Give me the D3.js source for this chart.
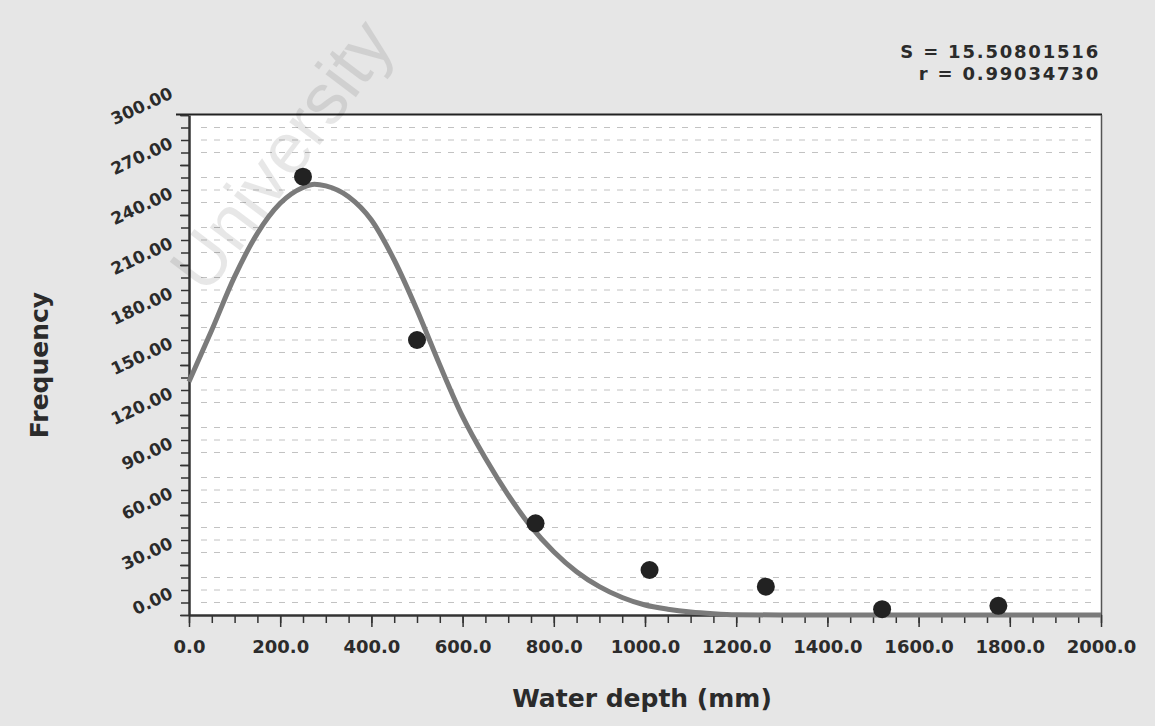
<!DOCTYPE html>
<html>
<head>
<meta charset="utf-8">
<script src="https://cdn.jsdelivr.net/npm/d3@7"></script>
<style>
body { margin: 0; background: #e6e6e6; }
svg { display: block; }
text { font-family: "DejaVu Sans", Verdana, sans-serif; font-weight: bold; fill: #2b2b2b; }
</style>
</head>
<body>
<svg id="chart" width="1155" height="726"></svg>
<script>
// observed points (bin centre, frequency)
let depth = [250, 500, 760, 1010, 1265, 1520, 1775];
let freq = [263, 165, 55, 27, 17, 3.5, 5.5];

// fitted curve
let fitDepth = [0, 50, 100, 150, 200, 250, 275, 300, 350, 400, 450, 500, 550, 600, 650, 700, 750, 800, 850, 900, 950, 1000, 1050, 1100, 1150, 1200, 1300, 1600, 2000];
let fitFreq = [140, 171, 203, 229, 247, 256.5, 258.5, 257.5, 251, 237, 213, 183, 150, 119, 94, 72, 53, 38, 26, 17, 10.5, 6, 3.5, 1.8, 0.8, 0.2, 0, 0, 0];

let xTicks = d3.range(0, 2001, 200);
let xMinorTicks = d3.range(0, 2001, 50);
let yTicks = d3.range(0, 301, 30);
let yMinorTicks = d3.range(0, 301, 7.5);
let gridValues = yMinorTicks.filter(v => v % 30 != 0);

let statLines = ["S = 15.50801516", "r = 0.99034730"];

function main() {
    var svg = d3.select("#chart");
    var x = d3.scaleLinear().domain([0, 2000]).range([189, 1101]);
    var y = d3.scaleLinear().domain([0, 300]).range([615, 115]);

    // plot area
    svg.append("rect")
        .attr("x", x(0)).attr("y", y(300))
        .attr("width", x(2000) - x(0)).attr("height", y(0) - y(300))
        .attr("fill", "#fff");

    // dashed minor grid
    svg.append("g").selectAll("line")
        .data(gridValues)
        .join("line")
        .attr("x1", x(0) + 12).attr("x2", x(2000) - 6)
        .attr("y1", d => y(d)).attr("y2", d => y(d))
        .attr("stroke", "#c2c2c2")
        .attr("stroke-width", 1)
        .attr("stroke-dasharray", "6,7");

    // frame top and right
    svg.append("line")
        .attr("x1", 176).attr("x2", x(2000) + 1)
        .attr("y1", y(300) - 0.5).attr("y2", y(300) - 0.5)
        .attr("stroke", "#222").attr("stroke-width", 2);
    svg.append("line")
        .attr("x1", x(2000) + 0.5).attr("x2", x(2000) + 0.5)
        .attr("y1", y(300)).attr("y2", y(0))
        .attr("stroke", "#555").attr("stroke-width", 1.5);

    // y axis
    var yMinor = svg.append("g")
        .attr("transform", "translate(" + x(0) + ",0)")
        .call(d3.axisLeft(y).tickValues(yMinorTicks).tickSize(8).tickFormat(""));
    yMinor.select(".domain").remove();
    yMinor.selectAll("line").attr("stroke", "#333").attr("stroke-width", 1.5);

    var yAxis = svg.append("g")
        .attr("transform", "translate(" + x(0) + ",0)")
        .call(d3.axisLeft(y).tickValues(yTicks).tickSize(9).tickSizeOuter(0).tickFormat(d3.format(".2f")));
    yAxis.select(".domain").attr("stroke", "#333").attr("stroke-width", 2.5);
    yAxis.selectAll("line").attr("stroke", "#333").attr("stroke-width", 1.5);
    yAxis.selectAll("text")
        .attr("x", -15).attr("y", -18).attr("dy", null)
        .attr("text-anchor", "end")
        .attr("transform", "rotate(-25,-15,-18)")
        .style("font-size", "17px");

    // x axis
    var xMinor = svg.append("g")
        .attr("transform", "translate(0," + y(0) + ")")
        .call(d3.axisBottom(x).tickValues(xMinorTicks).tickSize(8).tickFormat(""));
    xMinor.select(".domain").remove();
    xMinor.selectAll("line").attr("stroke", "#333").attr("stroke-width", 1.5);

    var xAxis = svg.append("g")
        .attr("transform", "translate(0," + y(0) + ")")
        .call(d3.axisBottom(x).tickValues(xTicks).tickSize(12).tickSizeOuter(0).tickPadding(13).tickFormat(d3.format(".1f")));
    xAxis.select(".domain").attr("stroke", "#333").attr("stroke-width", 2.5);
    xAxis.selectAll("line").attr("stroke", "#333").attr("stroke-width", 1.5);
    xAxis.selectAll("text").style("font-size", "18px");

    // fitted curve
    var line = d3.line()
        .x((d, i) => x(fitDepth[i]))
        .y(d => y(d))
        .curve(d3.curveMonotoneX);
    svg.append("path")
        .datum(fitFreq)
        .attr("d", line)
        .attr("fill", "none")
        .attr("stroke", "#7b7b7b")
        .attr("stroke-width", 5);

    // observed points
    svg.append("g").selectAll("circle")
        .data(freq)
        .join("circle")
        .attr("cx", (d, i) => x(depth[i]))
        .attr("cy", d => y(d))
        .attr("r", 9)
        .attr("fill", "#222");

    // statistics
    svg.append("g").selectAll("text")
        .data(statLines)
        .join("text")
        .attr("x", 1100)
        .attr("y", (d, i) => 58 + i * 22)
        .attr("text-anchor", "end")
        .style("font-size", "18px")
        .style("letter-spacing", "1.8px")
        .text(d => d);

    // axis titles
    svg.append("text")
        .attr("x", 642).attr("y", 707)
        .attr("text-anchor", "middle")
        .style("font-size", "25px")
        .text("Water depth (mm)");
    svg.append("text")
        .attr("transform", "translate(48,365) rotate(-90)")
        .attr("text-anchor", "middle")
        .style("font-size", "25px")
        .text("Frequency");

    // scan watermark
    svg.append("text")
        .attr("transform", "translate(206,296) rotate(-53)")
        .style("font-family", "'Liberation Sans', Arial, sans-serif")
        .style("font-weight", "normal")
        .style("font-size", "72px")
        .style("fill", "#000")
        .style("opacity", 0.09)
        .text("University");
}

main();
</script>
</body>
</html>
